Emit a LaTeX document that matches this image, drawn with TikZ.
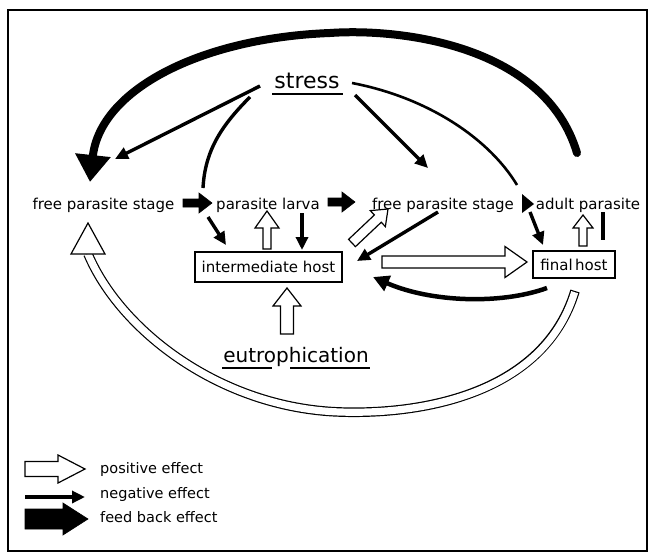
\documentclass[tikz,border=0pt]{standalone}
\usepackage{fontspec}
\setmainfont{DejaVu Sans}
\usetikzlibrary{calc,arrows.meta}
% block arrow: #1 style, #2 from, #3 to, #4 shaft half width, #5 head half width, #6 head length
\newcommand\blockarr[6]{%
  \coordinate (ba-h) at ($(#3)!#6!(#2)$);
  \draw[#1] ($(#2)!#4!90:(#3)$) -- ($(ba-h)!#4!90:(#3)$) -- ($(ba-h)!#5!90:(#3)$) -- (#3)
    -- ($(ba-h)!#5!-90:(#3)$) -- ($(ba-h)!#4!-90:(#3)$) -- ($(#2)!#4!-90:(#3)$) -- cycle;}
\begin{document}
\begin{tikzpicture}[x=1pt,y=-1pt,
  lbl/.style={font=\fontsize{15}{18}\selectfont, inner sep=0pt, anchor=base},
  biglbl/.style={font=\fontsize{22}{26}\selectfont, inner sep=0pt, anchor=base},
  eulbl/.style={font=\fontsize{20}{24}\selectfont, inner sep=0pt, anchor=base},
  legtext/.style={font=\fontsize{14.5}{17}\selectfont, inner sep=0pt, anchor=base west},
  hostbox/.style={draw, line width=1.3pt, font=\fontsize{15}{18}\selectfont, inner sep=0pt,
     text height=11pt, text depth=0pt},
  neg/.style={line width=3.4pt, -{Triangle[length=13pt,width=12pt]}},
  plain/.style={line width=3.4pt},
  posarr/.style={draw=black, fill=white, line width=1.2pt, line join=miter},
  fbarr/.style={draw=black, fill=black, line width=0.6pt, line join=miter},
  uline/.style={line width=1.5pt}]
\useasboundingbox (0,0) rectangle (650,554);
\draw[line width=2.5pt] (8,10) rectangle (647,551);

% ---------- nodes ----------
\node[biglbl] (stress) at (307,88) {stress};
\node[lbl] (fps1) at (103.5,209) {free parasite stage};
\node[lbl] (pl) at (268,209) {parasite larva};
\node[lbl] (fps2) at (443,209) {free parasite stage};
\node[lbl] (ap) at (588,209) {adult parasite};
\node[hostbox, minimum width=147pt, minimum height=30pt] (ih) at (268.5,267) {intermediate host};
\node[hostbox, minimum width=82pt, minimum height=27pt] (fh) at (574,264.5) {final\,host};
\node[eulbl] (eu) at (296,362) {eutrophication};

\draw[uline] (272,94) -- (343,94);
\draw[uline] (222,368) -- (272,368);
\draw[uline] (290,368) -- (370,368);

% ---------- coordinates ----------
\coordinate (arcS) at (577,153);
\coordinate (arcT) at (90,182);
\coordinate (s1a) at (260,86);  \coordinate (s1b) at (115,159);
\coordinate (s2a) at (250,97);  \coordinate (s2b) at (203,188);
\coordinate (s3a) at (355,95);  \coordinate (s3b) at (428,168);
\coordinate (s4a) at (352,83);  \coordinate (s4b) at (517,185);
\coordinate (f1a) at (183,203); \coordinate (f1b) at (212,203);
\coordinate (f2a) at (328,202); \coordinate (f2b) at (355,202);
\coordinate (n1a) at (208,217); \coordinate (n1b) at (226,245);
\coordinate (p1a) at (267,249); \coordinate (p1b) at (267,211);
\coordinate (n2a) at (302,213); \coordinate (n2b) at (302,250);
\coordinate (p2a) at (287,334); \coordinate (p2b) at (287,288);
\coordinate (p3a) at (352,243); \coordinate (p3b) at (388,209);
\coordinate (n3a) at (438,212); \coordinate (n3b) at (357,261);
\coordinate (p4a) at (382,262); \coordinate (p4b) at (527,262);
\coordinate (b1a) at (547,288); \coordinate (b1b) at (373,277);
\coordinate (n4a) at (530,212); \coordinate (n4b) at (543,245);
\coordinate (p5a) at (583,246); \coordinate (p5b) at (583,215);
\coordinate (n5a) at (603,212); \coordinate (n5b) at (603,240);
\coordinate (hcA) at (575,291); \coordinate (hcB) at (88,254); \coordinate (hcT) at (88,223);

% ---------- big feedback arc ----------
\draw[line width=8pt, line cap=round, -{Triangle[length=27pt,width=34pt]}]
  (arcS) .. controls (545,45) and (400,28) .. (330,33)
         .. controls (200,38) and (100,90) .. (arcT);

% ---------- stress effects ----------
\draw[neg] (s1a) -- (s1b);
\draw[plain] (s2a) .. controls (222,125) and (205,150) .. (s2b);
\draw[neg] (s3a) -- (s3b);
\draw[line width=2.6pt] (s4a) .. controls (430,98) and (490,140) .. (s4b);

% ---------- main chain ----------
\blockarr{fbarr}{f1a}{f1b}{4pt}{10pt}{13pt}
\blockarr{fbarr}{f2a}{f2b}{4pt}{10pt}{13pt}
\fill (522,194) -- (534,204) -- (522,213) -- cycle;

\draw[neg] (n1a) -- (n1b);
\blockarr{posarr}{p1a}{p1b}{4pt}{12pt}{17pt}
\draw[neg] (n2a) -- (n2b);
\blockarr{posarr}{p2a}{p2b}{6.5pt}{14pt}{18pt}
\blockarr{posarr}{p3a}{p3b}{5pt}{11pt}{14pt}
\draw[neg] (n3a) -- (n3b);
\blockarr{posarr}{p4a}{p4b}{6pt}{15.5pt}{22pt}
\draw[line width=4.5pt, -{Triangle[length=16pt,width=16pt]}]
  (b1a) .. controls (500,305) and (430,302) .. (b1b);
\draw[neg] (n4a) -- (n4b);
\blockarr{posarr}{p5a}{p5b}{4pt}{10pt}{13pt}
\draw[line width=4pt] (n5a) -- (n5b);

% ---------- big hollow return curve ----------
\draw[line width=9.6pt]
  (hcA) .. controls (545,390) and (430,415) .. (340,412)
        .. controls (220,408) and (120,330) .. (hcB);
\draw[line width=7.2pt, white, shorten <=1.2pt]
  (hcA) .. controls (545,390) and (430,415) .. (340,412)
        .. controls (220,408) and (120,330) .. (hcB);
\draw[posarr] (71,254) -- (hcT) -- (105,254) -- cycle;

% ---------- legend ----------
\coordinate (l1a) at (25,469); \coordinate (l1b) at (85,469);
\coordinate (l2a) at (25,497); \coordinate (l2b) at (85,497);
\coordinate (l3a) at (25,519); \coordinate (l3b) at (88,519);
\blockarr{posarr}{l1a}{l1b}{7.5pt}{14pt}{27pt}
\draw[neg] (l2a) -- (l2b);
\blockarr{fbarr}{l3a}{l3b}{10pt}{16pt}{25pt}
\node[legtext] (lt1) at (100,473) {positive effect};
\node[legtext] (lt2) at (100,498) {negative effect};
\node[legtext] (lt3) at (100,522) {feed back effect};
\end{tikzpicture}
\end{document}
